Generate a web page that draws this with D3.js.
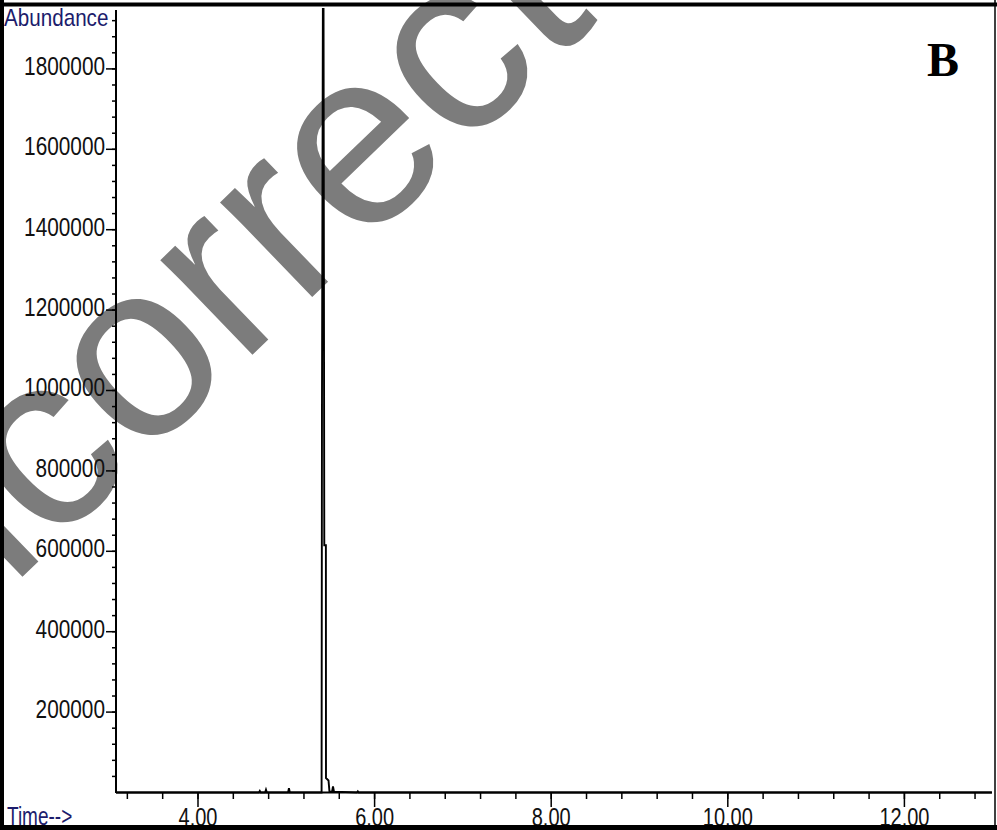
<!DOCTYPE html>
<html>
<head>
<meta charset="utf-8">
<script src="https://cdn.jsdelivr.net/npm/d3@7"></script>
<style>
  body { margin: 0; background: #fff; }
  text { font-family: "Liberation Sans", Arial, sans-serif; }
</style>
</head>
<body>
<div id="chart"></div>
<script>
// chromatogram trace (time in min, abundance)
const times = [3.07, 4.69, 4.70, 4.71, 4.76, 4.77, 4.78, 5.02, 5.03, 5.04,
  5.3996, 5.4042, 5.4189, 5.4302, 5.4483, 5.4495, 5.478, 5.489, 5.518, 5.529, 5.540,
  5.80, 5.81, 5.82, 12.99];
const abundance = [0, 0, 4000, 0, 0, 7000, 0, 0, 11000, 0,
  0, 985000, 2400000, 615000, 615000, 36000, 30000, 2000, 2000, 15000, 2000,
  0, 3000, 0, 0];

const xMajor = [4, 6, 8, 10, 12];
const xMajorLabels = ["4.00", "6.00", "8.00", "10.00", "12.00"];
const yMajor = [200000, 400000, 600000, 800000, 1000000, 1200000, 1400000, 1600000, 1800000];
const xMinorStep = 0.4;
const yMinorStep = 40000;

const width = 997;
const height = 830;
const squeeze = 0.8; // the screen font is narrower than Arial

const svg = d3
  .select("#chart")
  .append("svg")
  .attr("width", width)
  .attr("height", height);

// watermark, sits under the chart
svg
  .append("text")
  .attr("transform", "translate(-100,695) rotate(-44)")
  .style("font-size", "250px")
  .style("fill", "#7c7c7c")
  .text("Incorrect");

const xScale = d3.scaleLinear().domain([3.0714, 12.992]).range([116, 992]);
const yScale = d3.scaleLinear().domain([0, 1946517]).range([792.5, 10]);

svg
  .append("clipPath")
  .attr("id", "plotClip")
  .append("rect")
  .attr("x", 116)
  .attr("y", 8)
  .attr("width", 878)
  .attr("height", 790);

const line = d3
  .line()
  .x((d, i) => xScale(times[i]))
  .y((d) => yScale(d));

svg
  .append("path")
  .datum(abundance)
  .attr("d", line)
  .attr("clip-path", "url(#plotClip)")
  .style("fill", "none")
  .style("stroke", "#000")
  .style("stroke-width", "1.9");

// y axis
const yMinor = d3.range(yMinorStep, 1946517, yMinorStep);
svg
  .append("line")
  .attr("x1", 116).attr("x2", 116)
  .attr("y1", 10).attr("y2", 793)
  .style("stroke", "#000")
  .style("stroke-width", "2");
svg
  .selectAll(".yminor")
  .data(yMinor)
  .enter()
  .append("line")
  .attr("x1", 112).attr("x2", 117)
  .attr("y1", (d) => yScale(d)).attr("y2", (d) => yScale(d))
  .style("stroke", "#000")
  .style("stroke-width", "1.5");
svg
  .selectAll(".ymajor")
  .data(yMajor)
  .enter()
  .append("line")
  .attr("x1", 106).attr("x2", 117)
  .attr("y1", (d) => yScale(d)).attr("y2", (d) => yScale(d))
  .style("stroke", "#000")
  .style("stroke-width", "1.5");
svg
  .selectAll(".ylabel")
  .data(yMajor)
  .enter()
  .append("text")
  .attr("transform", (d) => `translate(105,${yScale(d) - 1}) scale(${squeeze},1)`)
  .attr("dominant-baseline", "middle")
  .style("text-anchor", "end")
  .style("font-size", "26px")
  .style("fill", "#111")
  .text((d) => d);

// x axis
const xMinor = d3.range(3.2, 13, xMinorStep);
svg
  .append("line")
  .attr("x1", 116).attr("x2", 992)
  .attr("y1", 792.5).attr("y2", 792.5)
  .style("stroke", "#000")
  .style("stroke-width", "2");
svg
  .selectAll(".xminor")
  .data(xMinor)
  .enter()
  .append("line")
  .attr("x1", (d) => xScale(d)).attr("x2", (d) => xScale(d))
  .attr("y1", 792).attr("y2", 799)
  .style("stroke", "#000")
  .style("stroke-width", "1.5");
svg
  .selectAll(".xmajor")
  .data(xMajor)
  .enter()
  .append("line")
  .attr("x1", (d) => xScale(d)).attr("x2", (d) => xScale(d))
  .attr("y1", 792).attr("y2", 807)
  .style("stroke", "#000")
  .style("stroke-width", "1.5");
svg
  .selectAll(".xlabel")
  .data(xMajor)
  .enter()
  .append("text")
  .attr("transform", (d) => `translate(${xScale(d)},826) scale(${squeeze},1)`)
  .style("text-anchor", "middle")
  .style("font-size", "25px")
  .style("fill", "#111")
  .text((d, i) => xMajorLabels[i]);

svg
  .append("text")
  .attr("transform", "translate(4,26) scale(0.86,1)")
  .style("font-size", "24px")
  .style("fill", "#1c1c6c")
  .text("Abundance");
svg
  .append("text")
  .attr("transform", "translate(7,825) scale(0.76,1)")
  .style("font-size", "25px")
  .style("fill", "#1c1c6c")
  .text("Time-->");

svg
  .append("text")
  .attr("x", 927)
  .attr("y", 76)
  .style("font-family", "'Liberation Serif', 'Times New Roman', serif")
  .style("font-weight", "bold")
  .style("font-size", "48px")
  .style("fill", "#000")
  .text("B");

// frame
svg.append("line").attr("x1", 0).attr("x2", 997).attr("y1", 4.5).attr("y2", 4.5)
  .style("stroke", "#000").style("stroke-width", "4");
svg.append("line").attr("x1", 2).attr("x2", 2).attr("y1", 0).attr("y2", 830)
  .style("stroke", "#000").style("stroke-width", "4");
svg.append("line").attr("x1", 0).attr("x2", 997).attr("y1", 827.5).attr("y2", 827.5)
  .style("stroke", "#000").style("stroke-width", "5");
svg.append("line").attr("x1", 995).attr("x2", 995).attr("y1", 0).attr("y2", 830)
  .style("stroke", "#000").style("stroke-width", "1.5");
</script>
</body>
</html>
